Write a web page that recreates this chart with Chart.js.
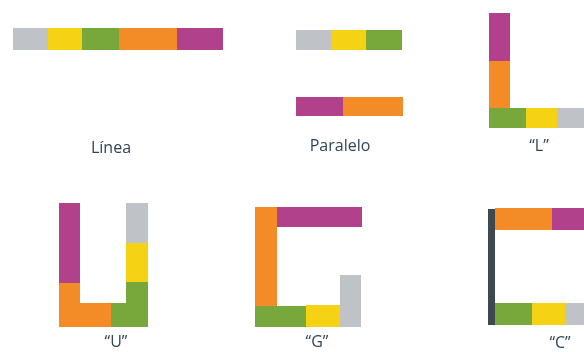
<!DOCTYPE html>
<html>
<head>
<meta charset="utf-8">
<script src="https://cdn.jsdelivr.net/npm/chart.js@4/dist/chart.umd.min.js"></script>
<style>
html,body{margin:0;padding:0;background:#fff;}
#wrap{width:584px;height:352px;position:relative;}
</style>
</head>
<body>
<div id="wrap"><canvas id="c"></canvas></div>
<script>
// Layout names and label anchor positions (layout units)
const categories = ['Línea', 'Paralelo', '“L”', '“U”', '“G”', '“C”'];
const labelX = [111, 340, 539, 116, 317, 560];
const labelY = [148, 146, 146, 342, 342, 343];

// Cabinet segments: zone, and extents x0..x1, y0..y1 (layout units)
const segZone = ['gris','amarillo','verde','naranja','morado',
  'gris','amarillo','verde','morado','naranja',
  'morado','naranja','verde','amarillo','gris',
  'morado','naranja','naranja','verde','verde','amarillo','gris',
  'naranja','morado','verde','amarillo','gris',
  'muro','naranja','morado','verde','amarillo','gris'];
const segX0 = [13,48,82,119,177, 296,331,366,296,343, 489,489,489,526,557, 59,59,59,111,126,126,126, 255,277,255,306,340, 488,495,552,495,532,565];
const segX1 = [48,82,119,177,223, 331,366,402,343,403, 510,510,526,557,590, 80,80,111,148,148,148,148, 277,362,306,340,361, 495,552,590,532,565,590];
const segY0 = [28,28,28,28,28, 30,30,30,97,97, 13,61,108,108,108, 203,283,303,303,282,243,203, 207,207,306,305,275, 209,208,208,303,303,303];
const segY1 = [50,50,50,50,50, 50,50,50,116,116, 61,108,128,128,128, 283,327,327,327,303,282,243, 306,227,327,327,327, 325,230,230,325,325,325];

const zoneColors = {gris:'#bfc3c7', amarillo:'#f6d214', verde:'#78a83b', naranja:'#f38b27', morado:'#b1418a', muro:'#3f4851'};

const datasets = segZone.map((z, i) => ({
  data: [
    {x: segX0[i], y: segY0[i]},
    {x: segX1[i], y: segY0[i]},
    {x: segX1[i], y: segY1[i]},
    {x: segX0[i], y: segY1[i]}
  ],
  backgroundColor: zoneColors[z],
  borderColor: zoneColors[z],
  borderWidth: 0,
  pointRadius: 0,
  tension: 0,
  fill: 'shape'
}));

const labelPlugin = {
  id: 'layoutLabels',
  afterDatasetsDraw(chart) {
    const {ctx, scales: {x, y}} = chart;
    ctx.save();
    ctx.fillStyle = '#2f4656';
    ctx.font = '16px "Open Sans", "Noto Sans", sans-serif';
    ctx.textAlign = 'center';
    ctx.textBaseline = 'middle';
    categories.forEach((t, i) => {
      ctx.fillText(t, x.getPixelForValue(labelX[i]), y.getPixelForValue(labelY[i]));
    });
    ctx.restore();
  }
};

new Chart(document.getElementById('c'), {
  type: 'line',
  data: {datasets},
  options: {
    responsive: true,
    maintainAspectRatio: false,
    animation: false,
    layout: {padding: 0},
    plugins: {legend: {display: false}, tooltip: {enabled: false}},
    scales: {
      x: {type: 'linear', min: 0, max: 584, display: false},
      y: {type: 'linear', min: 0, max: 352, reverse: true, display: false}
    }
  },
  plugins: [labelPlugin]
});
</script>
</body>
</html>
